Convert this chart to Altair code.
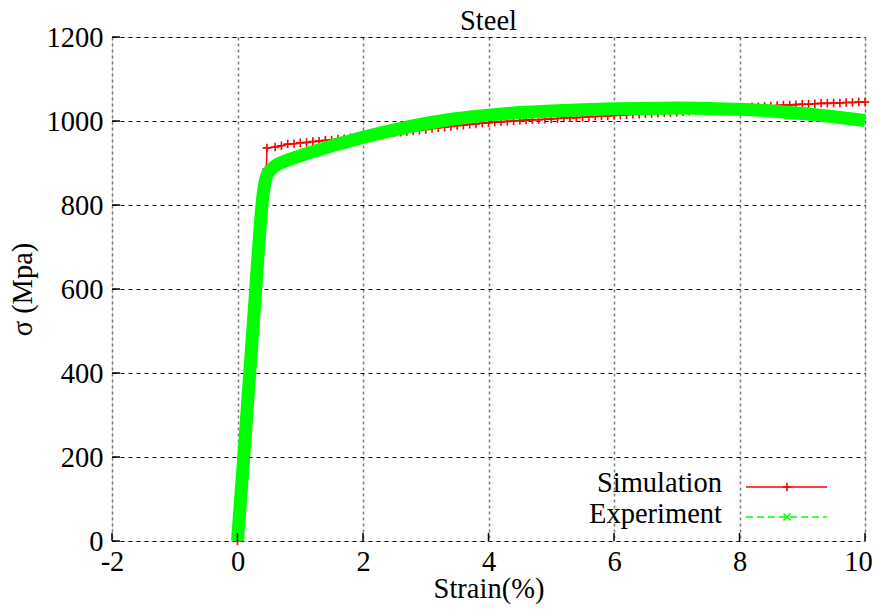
import altair as alt
import pandas as pd

# ---- data ----
sim_strain = [0.0, 0.46, 0.47, 0.6, 0.7, 0.8, 0.9, 1.0, 1.1, 1.2, 1.3, 1.4, 1.5, 1.6, 1.7, 1.8, 1.9,
              2.0, 2.1, 2.2, 2.3, 2.4, 2.5, 2.6, 2.7, 2.8, 2.9, 3.0, 3.1, 3.2, 3.3, 3.4, 3.5, 3.6,
              3.7, 3.8, 3.9, 4.0, 4.1, 4.2, 4.3, 4.4, 4.5, 4.6, 4.7, 4.8, 4.9, 5.0, 5.1, 5.2, 5.3,
              5.4, 5.5, 5.6, 5.7, 5.8, 5.9, 6.0, 6.1, 6.2, 6.3, 6.4, 6.5, 6.6, 6.7, 6.8, 6.9, 7.0,
              7.1, 7.2, 7.3, 7.4, 7.5, 7.6, 7.7, 7.8, 7.9, 8.0, 8.1, 8.2, 8.3, 8.4, 8.5, 8.6, 8.7,
              8.8, 8.9, 9.0, 9.1, 9.2, 9.3, 9.4, 9.5, 9.6, 9.7, 9.8, 9.9, 10.0]
sim_stress = [0, 885, 936, 938, 941, 945, 946, 948, 949, 951, 952, 954, 955, 957, 958, 960, 961,
              963, 965, 967, 968, 970, 972, 973, 975, 977, 978, 980, 982, 984, 985, 987, 989, 990,
              992, 993, 995, 996, 997, 998, 999, 1000, 1001, 1002, 1003, 1003, 1004, 1005, 1006,
              1007, 1008, 1008, 1009, 1010, 1011, 1012, 1012, 1013, 1014, 1015, 1016, 1016, 1017,
              1018, 1019, 1020, 1020, 1021, 1022, 1023, 1025, 1026, 1027, 1028, 1029, 1030, 1031,
              1032, 1033, 1034, 1034, 1035, 1036, 1037, 1038, 1038, 1039, 1040, 1040, 1041, 1042,
              1042, 1043, 1043, 1044, 1044, 1045, 1045]

exp_strain = [0.0, 0.05, 0.1, 0.15, 0.2, 0.25, 0.3, 0.33, 0.36, 0.39, 0.42, 0.45, 0.5, 0.55, 0.6,
              0.7, 0.8, 0.9, 1.0, 1.2, 1.4, 1.6, 1.8, 2.0, 2.5, 3.0, 3.5, 4.0, 4.5, 5.0, 5.5, 6.0,
              6.5, 7.0, 7.5, 8.0, 8.5, 9.0, 9.5, 10.0]
exp_stress = [0, 100, 200, 305, 410, 515, 620, 685, 745, 800, 838, 862, 879, 887, 893, 901, 907,
              912, 917, 927, 936, 945, 953, 961, 979, 994, 1006, 1014, 1020, 1024, 1027, 1029,
              1030, 1031, 1030, 1028, 1024, 1018, 1010, 1001]

x_ticks = [-2, 0, 2, 4, 6, 8, 10]
y_ticks = [0, 200, 400, 600, 800, 1000, 1200]

FONT = "Liberation Serif"
FS = 28.5
W, H = 753, 504
PLUS = "M-1,0L1,0M0,-1L0,1"
CROSS = "M-1,-1L1,1M-1,1L1,-1"
RED = "#ff0000"
GREEN = "#00ff00"

sim = pd.DataFrame({"strain": sim_strain, "stress": sim_stress})
exp = pd.DataFrame({"strain": exp_strain, "stress": exp_stress})
xt = pd.DataFrame({"v": x_ticks})
yt = pd.DataFrame({"v": y_ticks})
one = pd.DataFrame({"a": [0]})

xscale = alt.Scale(domain=[-2, 10], nice=False, zero=False)
yscale = alt.Scale(domain=[0, 1200], nice=False)

xaxis = alt.Axis(values=x_ticks, labelExpr="datum.value + ''", title="Strain(%)",
                 labelFont=FONT, labelFontSize=FS,
                 labelOffset={"condition": {"test": "datum.value == 10", "value": -7}, "value": 0},
                 labelColor="black", labelPadding=6, labelFlush=False, labelOverlap=False,
                 ticks=False, domain=False, grid=True, gridColor="#7a7a7a", gridDash=[3, 3],
                 gridWidth=1.5, titleFont=FONT, titleFontSize=FS, titleFontWeight="normal",
                 titleColor="black", titleBaseline="alphabetic", titleY=56)
yaxis = alt.Axis(values=y_ticks, labelExpr="datum.value + ''", title="σ (Mpa)",
                 labelFont=FONT, labelFontSize=FS,
                 labelColor="black", labelPadding=9, labelFlush=False, labelOverlap=False,
                 ticks=False, domain=False, grid=True, gridColor="black", gridDash=[4, 4],
                 gridWidth=1, titleFont=FONT, titleFontSize=FS, titleFontWeight="normal",
                 titleColor="black", titlePadding=9)

base_sim = alt.Chart(sim).encode(
    x=alt.X("strain:Q", scale=xscale, axis=xaxis),
    y=alt.Y("stress:Q", scale=yscale, axis=yaxis),
)
sim_line = base_sim.mark_line(color=RED, strokeWidth=1.5)
sim_pts = base_sim.mark_point(shape=PLUS, size=72, color=RED, strokeWidth=1.6, filled=False, opacity=1)

exp_line = alt.Chart(exp).mark_line(color=GREEN, strokeWidth=13, interpolate="monotone",
                                    strokeCap="butt").encode(
    x=alt.X("strain:Q", scale=xscale), y=alt.Y("stress:Q", scale=yscale))

bx_ticks = alt.Chart(xt).mark_rule(color="black", strokeWidth=1.5).encode(
    x=alt.X("v:Q", scale=xscale), y=alt.value(H), y2=alt.value(H - 8))
ly_ticks = alt.Chart(yt).mark_rule(color="black", strokeWidth=1.5).encode(
    y=alt.Y("v:Q", scale=yscale), x=alt.value(0), x2=alt.value(8))

title_t = alt.Chart(one).mark_text(text="Steel", font=FONT, fontSize=FS, align="center",
                                   baseline="alphabetic", color="black").encode(
    x=alt.value(W / 2), y=alt.value(-7))
leg_t1 = alt.Chart(one).mark_text(text="Simulation", font=FONT, fontSize=FS, align="right",
                                  baseline="alphabetic", color="black").encode(
    x=alt.value(610), y=alt.value(455))
leg_t2 = alt.Chart(one).mark_text(text="Experiment", font=FONT, fontSize=FS, align="right",
                                  baseline="alphabetic", color="black").encode(
    x=alt.value(610), y=alt.value(486))
leg_l1 = alt.Chart(one).mark_rule(color=RED, strokeWidth=1.5).encode(
    x=alt.value(634), x2=alt.value(715), y=alt.value(450))
leg_p1 = alt.Chart(one).mark_point(shape=PLUS, size=72, color=RED, strokeWidth=1.6, opacity=1).encode(
    x=alt.value(675), y=alt.value(450))
leg_l2 = alt.Chart(one).mark_rule(color=GREEN, strokeWidth=1.5, strokeDash=[7, 4]).encode(
    x=alt.value(634), x2=alt.value(715), y=alt.value(480))
leg_p2 = alt.Chart(one).mark_point(shape=CROSS, size=49, color=GREEN, strokeWidth=1.6, opacity=1).encode(
    x=alt.value(675), y=alt.value(480))

chart = alt.layer(
    sim_line, sim_pts, exp_line, bx_ticks, ly_ticks, title_t,
    leg_t1, leg_t2, leg_l1, leg_p1, leg_l2, leg_p2,
).properties(
    width=W, height=H,
    autosize=alt.AutoSizeParams(type="none"),
    padding={"left": 104, "top": 29, "right": 7, "bottom": 63},
).configure_view(stroke="black", strokeWidth=2).configure(background="white")

chart.save("out.html", embed_options={"renderer": "svg", "actions": False})
